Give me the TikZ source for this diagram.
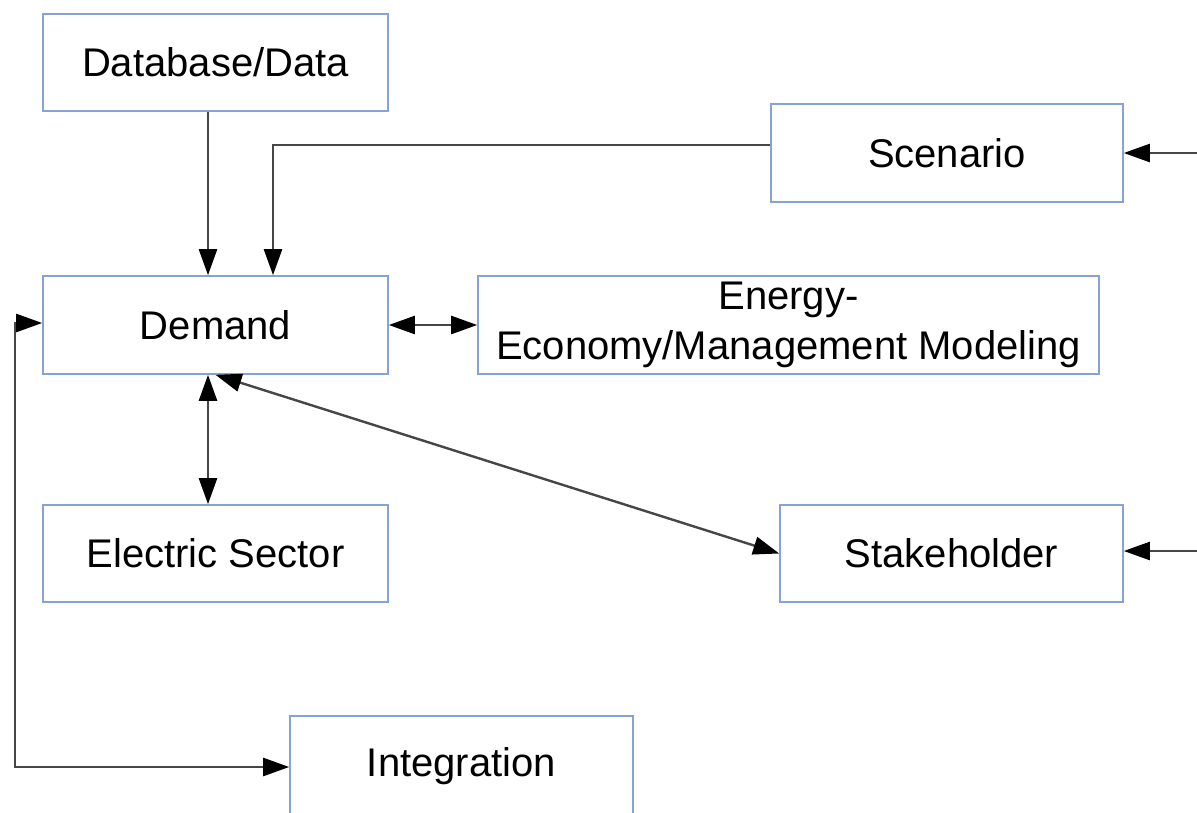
\documentclass[tikz,border=0pt]{standalone}
\usepackage{fontspec}
\setmainfont{Liberation Sans}
\usetikzlibrary{arrows.meta}
\definecolor{boxblue}{RGB}{135,162,215}
\definecolor{linegray}{RGB}{70,70,70}
\begin{document}
\begin{tikzpicture}[x=1pt,y=-1pt,
  box/.style={draw=boxblue, line width=1.6pt, inner sep=0pt, align=center,
    font=\fontsize{40}{50}\selectfont},
  tipA/.tip={Triangle[length=26pt,width=18pt,color=black]},
  conn/.style={draw=linegray, line width=2.4pt, -tipA},
  dconn/.style={draw=linegray, line width=2.4pt, tipA-tipA}]
\useasboundingbox (0,0) rectangle (1197,812);
\node[box, minimum width=345pt, minimum height=97pt] (db) at (215.5,62.5) {Database/Data};
\node[box, minimum width=352pt, minimum height=98pt] (sc) at (947,153) {Scenario};
\node[box, minimum width=345pt, minimum height=98pt] (dm) at (215.5,325) {Demand};
\node[box, minimum width=621pt, minimum height=98pt] (en) at (788.5,325) {Energy-\\Economy/Management Modeling};
\node[box, minimum width=345pt, minimum height=97pt] (el) at (215.5,553.5) {Electric Sector};
\node[box, minimum width=343pt, minimum height=97pt] (st) at (951.5,553.5) {Stakeholder};
\node[box, minimum width=343pt, minimum height=100pt] (in) at (461.5,766) {Integration};
\coordinate (scin) at (1197,153);
\coordinate (stin) at (1197,551);
\coordinate (loopT) at (15,323);
\coordinate (loopB) at (15,767);
\coordinate (scc) at (273,145);
\draw[conn] (db.south -| 208,0) -- (dm.north -| 208,0);
\draw[conn] (sc.west |- scc) -- (scc) -- (dm.north -| scc);
\draw[dconn] (dm.east) -- (en.west);
\draw[dconn] (dm.south -| 208,0) -- (el.north -| 208,0);
\draw[dconn] (dm.south) -- (st.west);
\draw[dconn] (dm.west |- loopT) -- (loopT) -- (loopB) -- (in.west |- loopB);
\draw[conn] (scin) -- (scin -| sc.east);
\draw[conn] (stin) -- (stin -| st.east);
\end{tikzpicture}
\end{document}
